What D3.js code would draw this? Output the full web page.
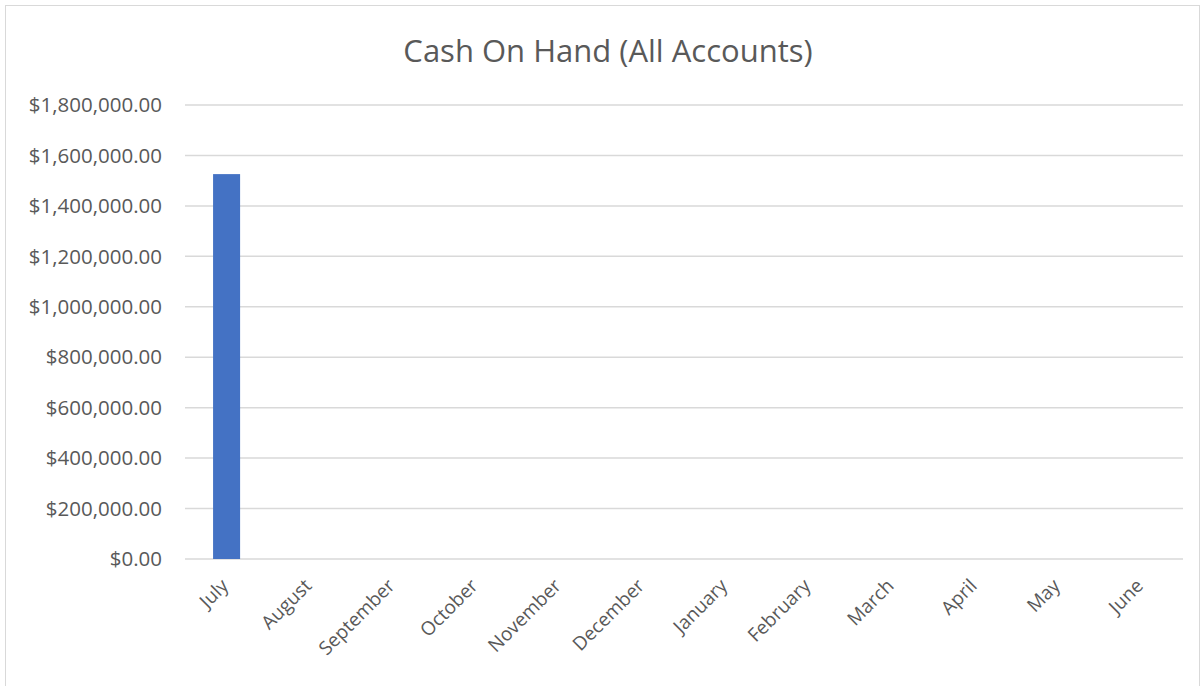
<!DOCTYPE html>
<html>
<head>
<meta charset="utf-8">
<script src="https://cdn.jsdelivr.net/npm/d3@7"></script>
<style>
  body { margin: 0; background: #fff; }
  text { font-family: "Open Sans", sans-serif; fill: #595959; }
</style>
</head>
<body>
<div id="chart"></div>
<script>
var months = ['July', 'August', 'September', 'October', 'November', 'December',
              'January', 'February', 'March', 'April', 'May', 'June'];
var cash = [1526000, 0, 0, 0, 0, 0, 0, 0, 0, 0, 0, 0];
var yTicks = [0, 200000, 400000, 600000, 800000, 1000000, 1200000, 1400000, 1600000, 1800000];

var width = 1201,
    height = 686;

var margin = {
  left: 185,
  right: 18,
  top: 105,
  bottom: 127
}

var svg = d3.select('#chart').append('svg')
  .attr('width', width)
  .attr('height', height);

// chart border
svg.append('rect')
  .attr('x', 5.5)
  .attr('y', 5.5)
  .attr('width', width - 7)
  .attr('height', height)
  .style('fill', 'none')
  .style('stroke', '#d9d9d9');

var x = d3.scaleBand()
  .domain(months)
  .range([margin.left, width - margin.right])
  .paddingInner(0.675)
  .paddingOuter(0.3375);

var y = d3.scaleLinear()
  .domain([0, 1800000])
  .range([height - margin.bottom, margin.top]);

var fmt = d3.format('$,.2f');

// gridlines
svg.append('g')
  .selectAll('line')
  .data(yTicks)
  .enter()
  .append('line')
  .attr('x1', margin.left)
  .attr('x2', width - margin.right)
  .attr('y1', function(d) { return y(d); })
  .attr('y2', function(d) { return y(d); })
  .style('stroke', '#d9d9d9')
  .style('stroke-width', 1.5);

// y labels
svg.append('g')
  .selectAll('text')
  .data(yTicks)
  .enter()
  .append('text')
  .attr('x', 162)
  .attr('y', function(d) { return y(d); })
  .attr('dy', '0.35em')
  .style('text-anchor', 'end')
  .style('font-size', '20.5px')
  .text(function(d) { return fmt(d); });

// bars
svg.append('g')
  .selectAll('rect')
  .data(cash)
  .enter()
  .append('rect')
  .attr('x', function(d, i) { return x(months[i]); })
  .attr('y', function(d) { return y(d); })
  .attr('width', x.bandwidth())
  .attr('height', function(d) { return y(0) - y(d); })
  .style('fill', '#4472c4');

// x labels
svg.append('g')
  .selectAll('text')
  .data(months)
  .enter()
  .append('text')
  .attr('transform', function(d) {
    return 'translate(' + (x(d) + x.bandwidth() / 2 + 3) + ',' + 587 + ') rotate(-45)';
  })
  .style('text-anchor', 'end')
  .style('font-size', '19px')
  .text(function(d) { return d; });

svg.append('text')
  .attr('x', 608)
  .attr('y', 62)
  .style('text-anchor', 'middle')
  .style('font-size', '31px')
  .text('Cash On Hand (All Accounts)');
</script>
</body>
</html>
